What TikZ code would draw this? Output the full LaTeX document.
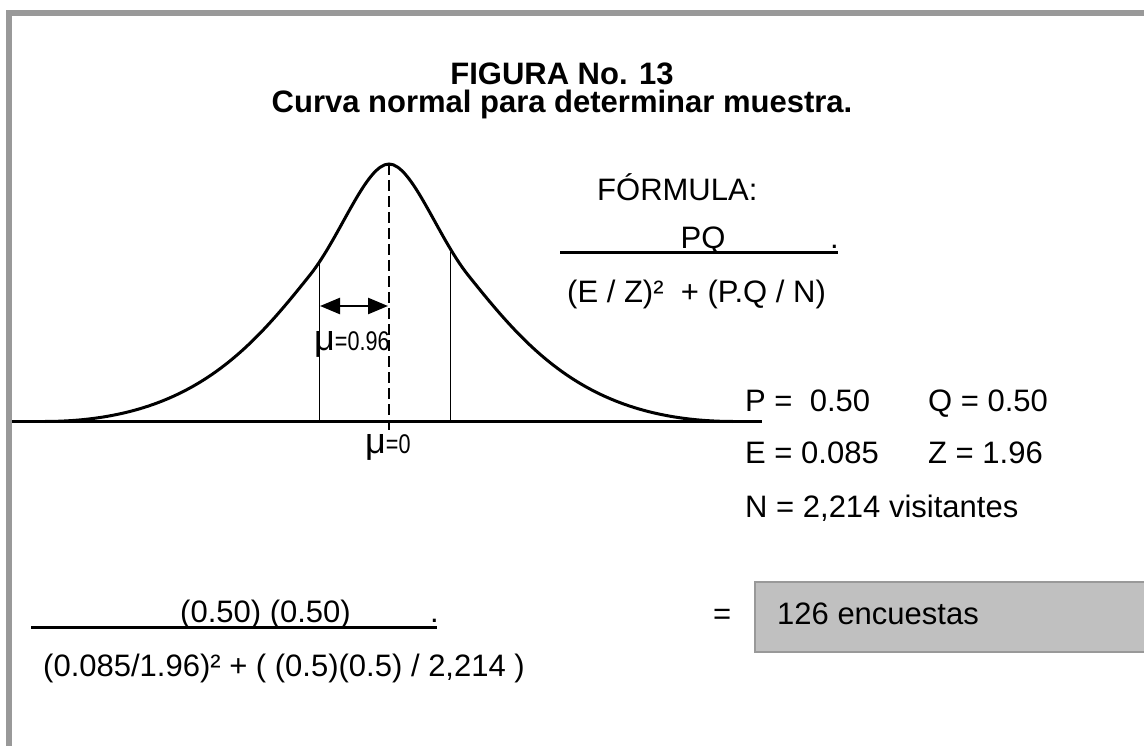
\documentclass[tikz,border=0pt]{standalone}
\usepackage{fontspec}
\setmainfont{Liberation Sans}
\usetikzlibrary{arrows.meta}
\definecolor{framegray}{HTML}{999999}
\definecolor{boxfill}{HTML}{C0C0C0}
\tikzset{
  txt/.style={inner sep=0pt, anchor=base west, font=\fontsize{31}{37}\selectfont},
  ttl/.style={inner sep=0pt, anchor=base, font=\fontsize{31}{37}\selectfont\bfseries},
  mulabel/.style={inner sep=0pt, anchor=base west, font=\fontsize{27}{30}\selectfont},
  heavy/.style={line width=3pt},
  guide/.style={line width=1.5pt},
  tip/.tip={Triangle[length=20pt,width=16pt]},
}
\newcommand{\mymu}{{\fontsize{36}{36}\selectfont μ}}
\begin{document}
\begin{tikzpicture}[x=1pt,y=-1pt]
\useasboundingbox (0,0) rectangle (1144,746);
% frame
\draw[framegray, line width=6pt] (9,746) -- (9,13.5) -- (1144,13.5);
% title
\node[ttl] (t1) at (562,85) {FIGURA No. 13};
\node[ttl] (t2) at (562,113) {Curva normal para determinar muestra.};
% axis
\draw[heavy] (12,421.5) -- (762,421.5);
% curve
\draw[heavy] (45,421.5) .. controls (190,421) and (250,350) .. (310,275)
  .. controls (340,237.5) and (366,164) .. (389,164)
  .. controls (412,164) and (438,237.5) .. (468,275)
  .. controls (528,350) and (588,421) .. (733,421.5);
% verticals
\coordinate (lt) at (319.5,262);
\coordinate (lb) at (319.5,421.5);
\coordinate (rt) at (450.5,252);
\coordinate (rb) at (450.5,421.5);
\coordinate (pk) at (389,164);
\coordinate (pb) at (389,430);
\draw[guide] (lt) -- (lb);
\draw[guide] (rt) -- (rb);
\draw[line width=2.5pt, dash pattern=on 11pt off 5pt] (pk) -- (pb);
% arrow
\coordinate (a1) at (320,306);
\coordinate (a2) at (388,306);
\draw[line width=2.5pt, tip-tip] (a1) -- (a2);
% mu labels
\node[mulabel] (m1) at (314,350) {\mymu\scalebox{0.8}[1]{=0.96}};
\node[mulabel] (m0) at (365,453) {\mymu\scalebox{0.8}[1]{=0}};
% formula
\node[txt] (f0) at (597,201) {FÓRMULA:};
\node[txt, anchor=base] (f1) at (703,249) {PQ};
\node[txt] (fd) at (830,249) {.};
\draw[heavy] (560,252.5) -- (838,252.5);
\node[txt] (f2) at (567,303) {(E / Z)²\ \ + (P.Q / N)};
% data
\node[txt] (p) at (745,411) {P =\ \ 0.50};
\node[txt] (q) at (928,411) {Q = 0.50};
\node[txt] (e) at (745,463) {E = 0.085};
\node[txt] (z) at (928,463) {Z = 1.96};
\node[txt] (n) at (745,517) {N = 2,214 visitantes};
% computation
\node[txt] (c1) at (180,622) {(0.50) (0.50)};
\node[txt] (cd) at (430,622) {.};
\draw[heavy] (31,627.5) -- (437,627.5);
\node[txt] (c2) at (43,676) {(0.085/1.96)² + ( (0.5)(0.5) / 2,214 )};
\node[txt] (eq) at (713,624) {=};
\draw[framegray, fill=boxfill, line width=1.5pt] (755,582) rectangle (1150,652);
\node[txt] (res) at (777,624) {126 encuestas};
\end{tikzpicture}
\end{document}
